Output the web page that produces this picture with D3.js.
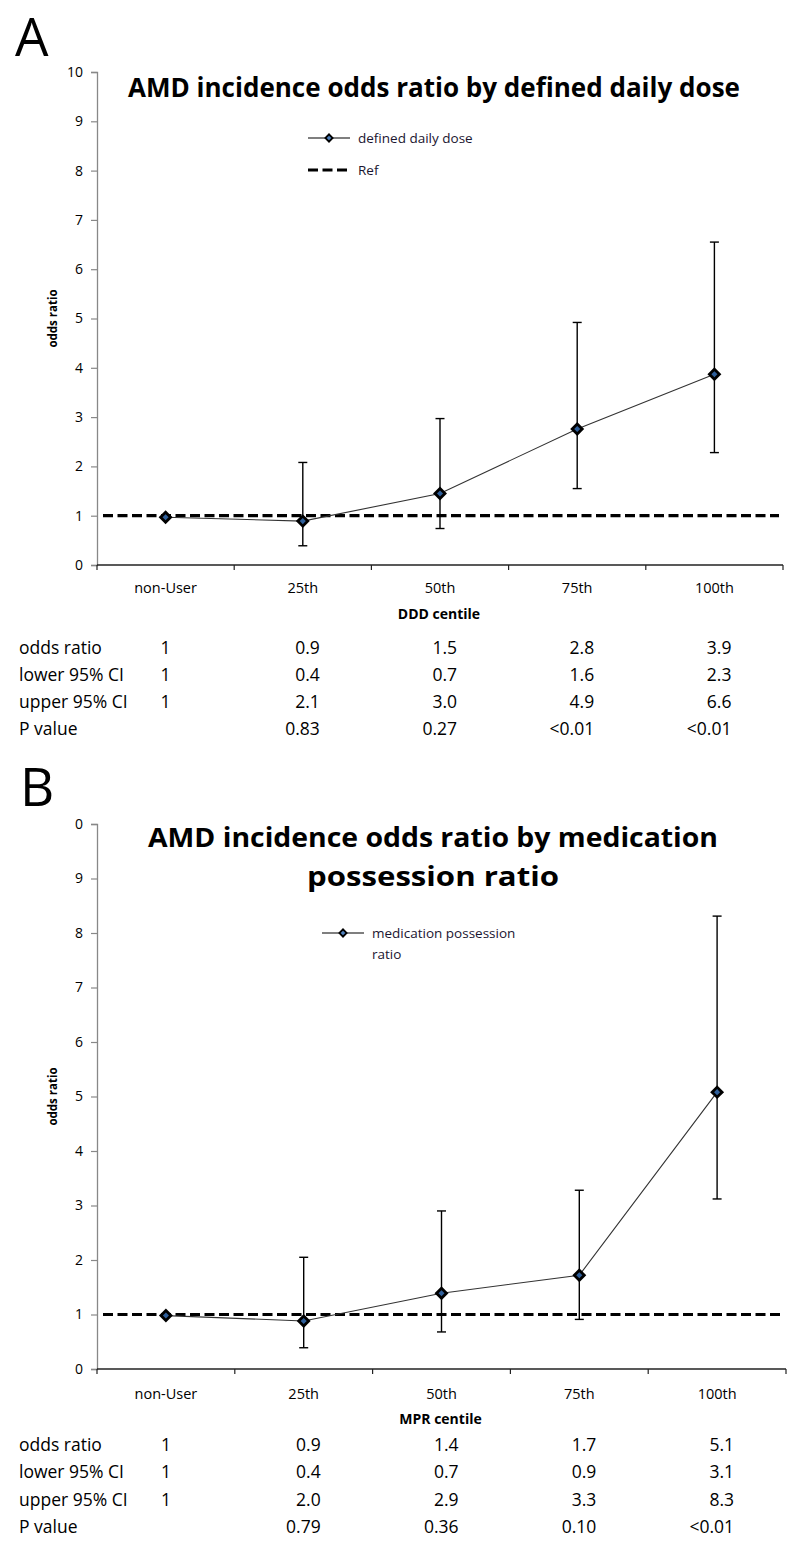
<!DOCTYPE html>
<html>
<head>
<meta charset="utf-8">
<script src="https://cdn.jsdelivr.net/npm/d3@7"></script>
<style>
  html, body { margin: 0; padding: 0; background: #fff; }
  svg { display: block; font-family: "Open Sans", "DejaVu Sans", sans-serif; }
</style>
</head>
<body>
<svg id="chart" width="800" height="1549"></svg>
<script>
// ---------------- data ----------------
const categories = ["non-User", "25th", "50th", "75th", "100th"];
const yTickValues = [0, 1, 2, 3, 4, 5, 6, 7, 8, 9, 10];
const yTickLabelsA = ["0", "1", "2", "3", "4", "5", "6", "7", "8", "9", "10"];
const yTickLabelsB = ["0", "1", "2", "3", "4", "5", "6", "7", "8", "9", "0"];
const refValue = 1;

const oddsA  = [0.97, 0.89, 1.45, 2.76, 3.87];
const lowerA = [null, 0.39, 0.74, 1.55, 2.28];
const upperA = [null, 2.08, 2.97, 4.92, 6.55];

const oddsB  = [0.98, 0.88, 1.39, 1.72, 5.08];
const lowerB = [null, 0.39, 0.68, 0.91, 3.12];
const upperB = [null, 2.05, 2.90, 3.28, 8.31];

const tableRowLabels = ["odds ratio", "lower 95% CI", "upper 95% CI", "P value"];
const tableA = [
  ["1", "0.9", "1.5", "2.8", "3.9"],
  ["1", "0.4", "0.7", "1.6", "2.3"],
  ["1", "2.1", "3.0", "4.9", "6.6"],
  ["", "0.83", "0.27", "<0.01", "<0.01"]
];
const tableB = [
  ["1", "0.9", "1.4", "1.7", "5.1"],
  ["1", "0.4", "0.7", "0.9", "3.1"],
  ["1", "2.0", "2.9", "3.3", "8.3"],
  ["", "0.79", "0.36", "0.10", "<0.01"]
];

const titleLinesA = ["AMD incidence odds ratio by defined daily dose"];
const titleLinesB = ["AMD incidence odds ratio by medication", "possession ratio"];
const legendLinesA = ["defined daily dose"];
const legendLinesB = ["medication possession", "ratio"];

// ---------------- drawing ----------------
const svg = d3.select("#chart");

function drawPanel(p) {
  const g = svg.append("g");
  const x = d3.scaleBand().domain(categories).range([p.x0, p.x1]).padding(0);
  const y = d3.scaleLinear().domain([0, 10]).range([p.yBottom, p.yTop]);
  const cx = c => x(c) + x.bandwidth() / 2;

  // panel letter
  g.append("text").attr("x", p.letterX).attr("y", p.letterY)
    .attr("font-size", 53).attr("font-family", "Open Sans, sans-serif")
    .attr("fill", "#000").text(p.letter);

  // y axis
  const yAxis = d3.axisLeft(y).tickValues(yTickValues)
    .tickFormat((d, i) => p.yLabels[i]).tickSize(6).tickPadding(8);
  const ya = g.append("g").attr("transform", `translate(${p.x0},0)`).call(yAxis);
  ya.attr("font-size", 14).attr("font-family", "Open Sans, sans-serif");
  ya.select(".domain").attr("stroke", "#888").attr("stroke-width", 1.3);
  ya.selectAll(".tick line").attr("stroke", "#888").attr("stroke-width", 1.2);
  ya.selectAll(".tick text").attr("font-size", 14).attr("fill", "#000");

  // x axis
  const xTickPos = categories.map(c => x(c)).concat([p.x1]);
  g.append("line").attr("x1", p.x0).attr("x2", p.x1)
    .attr("y1", p.yBottom).attr("y2", p.yBottom)
    .attr("stroke", "#222").attr("stroke-width", 1.4);
  g.selectAll(".xtick").data(xTickPos).join("line")
    .attr("x1", d => d).attr("x2", d => d)
    .attr("y1", p.yBottom).attr("y2", p.yBottom + 5)
    .attr("stroke", "#222").attr("stroke-width", 1.2);
  g.selectAll(".xlab").data(categories).join("text")
    .attr("x", d => cx(d)).attr("y", p.yBottom + p.catDy)
    .attr("text-anchor", "middle").attr("dominant-baseline", "central")
    .attr("font-size", 14.5).attr("fill", "#000").text(d => d);
  g.append("text").attr("x", (p.x0 + p.x1) / 2 - 1).attr("y", p.yBottom + p.xTitleDy)
    .attr("text-anchor", "middle").attr("dominant-baseline", "central")
    .attr("font-size", 14).attr("font-weight", "bold").attr("fill", "#000")
    .text(p.xTitle);

  // y axis title
  g.append("text")
    .attr("transform", `translate(${p.yTitleX},${(p.yTop + p.yBottom) / 2}) rotate(-90)`)
    .attr("text-anchor", "middle").attr("dominant-baseline", "central")
    .attr("font-size", 11.5).attr("font-weight", "bold").attr("fill", "#000")
    .text("odds ratio");

  // title
  p.titleLines.forEach((t, i) => {
    const tt = g.append("text").attr("x", p.titleCx).attr("y", p.titleY + i * 38.5)
      .attr("text-anchor", "middle").attr("font-size", 26.5).attr("font-weight", "bold")
      .attr("fill", "#000").text(t);
    if (p.titleWidths[i]) {
      tt.attr("textLength", p.titleWidths[i]).attr("lengthAdjust", "spacingAndGlyphs");
    }
  });

  // reference dashed line
  g.append("line")
    .attr("x1", p.x0 + 6).attr("x2", p.x1 - 4)
    .attr("y1", y(refValue)).attr("y2", y(refValue))
    .attr("stroke", "#000").attr("stroke-width", 3.2)
    .attr("stroke-dasharray", "10,4.5");

  // data line
  const line = d3.line().x((d, i) => cx(categories[i])).y(d => y(d));
  g.append("path").datum(p.odds).attr("d", line)
    .attr("fill", "none").attr("stroke", "#333").attr("stroke-width", 1.1);

  // error bars
  const eb = categories.map((c, i) => ({ c, lo: p.lower[i], hi: p.upper[i] }))
    .filter(d => d.lo !== null && d.hi !== null);
  const ebG = g.append("g").attr("stroke", "#000").attr("stroke-width", 1.4);
  eb.forEach(d => {
    ebG.append("line").attr("x1", cx(d.c)).attr("x2", cx(d.c))
      .attr("y1", y(d.lo)).attr("y2", y(d.hi));
    [d.lo, d.hi].forEach(v => {
      ebG.append("line").attr("x1", cx(d.c) - 4.5).attr("x2", cx(d.c) + 4.5)
        .attr("y1", y(v)).attr("y2", y(v));
    });
  });

  // markers (square rotated 45deg = diamond)
  const sym = d3.symbol().type(d3.symbolSquare).size(50);
  g.selectAll(".mk").data(p.odds).join("path")
    .attr("d", sym)
    .attr("transform", (d, i) => `translate(${cx(categories[i])},${y(d)}) rotate(45)`)
    .attr("fill", "#2f5f9a").attr("stroke", "#000").attr("stroke-width", 2.8);

  // legend
  const lg = g.append("g");
  lg.append("line").attr("x1", p.legX).attr("x2", p.legX + 42)
    .attr("y1", p.legY).attr("y2", p.legY).attr("stroke", "#000").attr("stroke-width", 1.2);
  lg.append("path").attr("d", d3.symbol().type(d3.symbolSquare).size(26)())
    .attr("transform", `translate(${p.legX + 21},${p.legY}) rotate(45)`)
    .attr("fill", "#4F81BD").attr("stroke", "#000").attr("stroke-width", 1.8);
  p.legendLines.forEach((t, i) => {
    lg.append("text").attr("x", p.legX + 50).attr("y", p.legY + i * 21)
      .attr("dominant-baseline", "central").attr("font-size", 13.5)
      .attr("fill", "#1a1530").text(t);
  });
  if (p.showRef) {
    lg.append("line").attr("x1", p.legX).attr("x2", p.legX + 42)
      .attr("y1", p.legY + 32).attr("y2", p.legY + 32)
      .attr("stroke", "#000").attr("stroke-width", 3.2).attr("stroke-dasharray", "10,4.5");
    lg.append("text").attr("x", p.legX + 50).attr("y", p.legY + 32)
      .attr("dominant-baseline", "central").attr("font-size", 13.5)
      .attr("fill", "#1a1530").text("Ref");
  }

  // table
  const tg = g.append("g").attr("font-size", 17.5).attr("fill", "#000");
  tableRowLabels.forEach((lab, r) => {
    const ry = p.yBottom + p.tableDy + r * p.rowStep;
    tg.append("text").attr("x", 19).attr("y", ry)
      .attr("dominant-baseline", "central").text(lab);
    p.table[r].forEach((v, ci) => {
      const c = categories[ci];
      if (ci === 0) {
        tg.append("text").attr("x", cx(c)).attr("y", ry)
          .attr("text-anchor", "middle").attr("dominant-baseline", "central").text(v);
      } else {
        tg.append("text").attr("x", cx(c) + 17).attr("y", ry)
          .attr("text-anchor", "end").attr("dominant-baseline", "central").text(v);
      }
    });
  });
}

drawPanel({
  letter: "A", letterX: 15, letterY: 56,
  x0: 97, x1: 783, yTop: 72, yBottom: 565,
  yLabels: yTickLabelsA,
  odds: oddsA, lower: lowerA, upper: upperA,
  titleLines: titleLinesA, titleCx: 434, titleY: 97, titleWidths: [612],
  legendLines: legendLinesA, legX: 308, legY: 138, showRef: true,
  xTitle: "DDD centile", catDy: 22, xTitleDy: 48, yTitleX: 52,
  table: tableA, tableDy: 82, rowStep: 27
});

drawPanel({
  letter: "B", letterX: 20, letterY: 806,
  x0: 97, x1: 786, yTop: 824, yBottom: 1369,
  yLabels: yTickLabelsB,
  odds: oddsB, lower: lowerB, upper: upperB,
  titleLines: titleLinesB, titleCx: 433, titleY: 847, titleWidths: [570, 252],
  legendLines: legendLinesB, legX: 322, legY: 933, showRef: false,
  xTitle: "MPR centile", catDy: 24, xTitleDy: 49, yTitleX: 52,
  table: tableB, tableDy: 75, rowStep: 27.3
});
</script>
</body>
</html>
